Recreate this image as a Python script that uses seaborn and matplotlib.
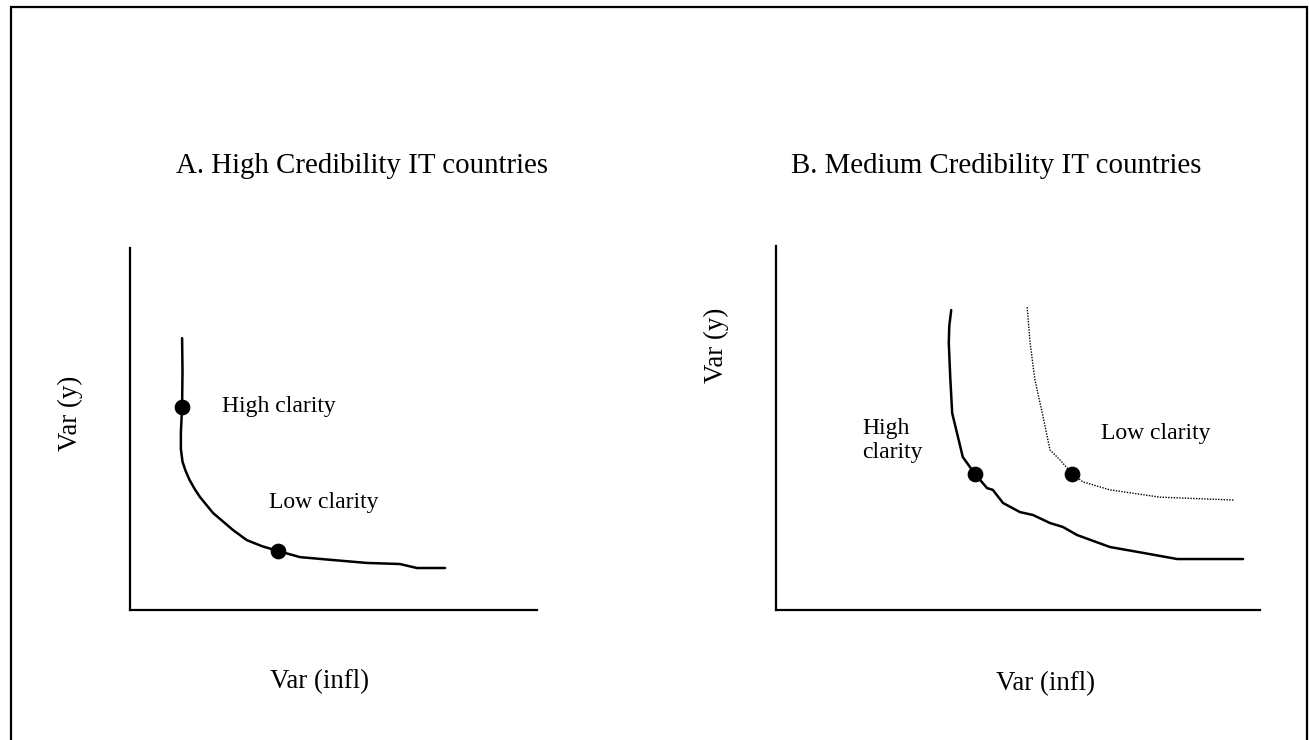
import numpy as np
import pandas as pd
import seaborn as sns
import matplotlib
matplotlib.use("Agg")
import matplotlib.pyplot as plt
from matplotlib.patches import Rectangle

# ---- data (arbitrary 0-100 units) ----
# panel A: high credibility
a_x = [12.8, 12.9, 12.8, 12.5, 12.5, 12.9, 13.6, 14.6, 15.9, 17.2, 20.4, 25.3, 28.7, 32.5, 36.4, 41.8, 49.9, 58.2, 66.3, 70.5, 77.4]
a_y = [75.1, 66.0, 56.1, 49.0, 44.5, 41.0, 38.6, 36.0, 33.4, 31.2, 26.8, 22.1, 19.3, 17.6, 16.3, 14.6, 13.8, 13.0, 12.7, 11.6, 11.6]
a_dot_x = [12.8, 36.4]
a_dot_y = [56.1, 16.3]

# panel B: medium credibility, high clarity (solid)
b_hi_x = [36.2, 35.8, 35.7, 36.0, 36.4, 37.4, 38.6, 41.1, 43.6, 44.8, 46.9, 50.4, 53.1, 56.6, 59.3, 62.2, 69.0, 75.8, 82.9, 96.5]
b_hi_y = [82.4, 78.0, 73.4, 64.0, 54.1, 48.6, 42.0, 37.4, 33.5, 33.0, 29.4, 26.9, 26.1, 23.9, 22.8, 20.6, 17.3, 15.7, 14.0, 14.0]
# panel B: low clarity (dotted)
b_lo_x = [51.9, 52.5, 53.5, 55.2, 56.6, 58.7, 61.2, 63.4, 69.0, 79.3, 94.8]
b_lo_y = [83.2, 73.4, 63.2, 53.0, 44.0, 41.2, 37.4, 35.2, 33.0, 31.0, 30.2]
b_dot_x = [41.1, 61.2]
b_dot_y = [37.4, 37.4]

titles = ["A. High Credibility IT countries", "B. Medium Credibility IT countries"]
xlab = "Var (infl)"
ylab = "Var (y)"

sns.set_theme(style="white")
plt.rcParams["font.family"] = ["Liberation Serif", "DejaVu Serif"]
plt.rcParams["text.color"] = "black"

fig = plt.figure(figsize=(13.09, 7.40), dpi=100)
fig.patches.append(Rectangle((11 / 1309, -0.05), 1296 / 1309, 1 - 7 / 740 + 0.05,
                             transform=fig.transFigure, fill=False,
                             edgecolor="black", linewidth=1.6))

ax1 = fig.add_axes([130 / 1309, 1 - 610 / 740, 407 / 1309, 362 / 740])
ax2 = fig.add_axes([776 / 1309, 1 - 610 / 740, 484 / 1309, 364 / 740])

dfa = pd.DataFrame({"x": a_x, "y": a_y})
sns.lineplot(data=dfa, x="x", y="y", sort=False, estimator=None, color="black", linewidth=1.8, ax=ax1)
sns.scatterplot(x=a_dot_x, y=a_dot_y, color="black", s=110, edgecolor="black", zorder=5, ax=ax1)

dfb1 = pd.DataFrame({"x": b_hi_x, "y": b_hi_y})
dfb2 = pd.DataFrame({"x": b_lo_x, "y": b_lo_y})
sns.lineplot(data=dfb1, x="x", y="y", sort=False, estimator=None, color="black", linewidth=1.8, ax=ax2)
sns.lineplot(data=dfb2, x="x", y="y", sort=False, estimator=None, color="black", linewidth=1.0,
             linestyle=(0, (1, 1)), ax=ax2)
sns.scatterplot(x=b_dot_x, y=b_dot_y, color="black", s=110, edgecolor="black", zorder=5, ax=ax2)

for ax in (ax1, ax2):
    ax.set_xlim(0, 100)
    ax.set_ylim(0, 100)
    ax.set_xticks([])
    ax.set_yticks([])
    ax.set_xlabel("")
    ax.set_ylabel("")
    sns.despine(ax=ax)
    for s in ("left", "bottom"):
        ax.spines[s].set_linewidth(1.6)
        ax.spines[s].set_color("black")

ax1.text(22.5, 56.1, "High clarity", fontsize=17, va="center", ha="left")
ax1.text(34.2, 29.6, "Low clarity", fontsize=17, va="center", ha="left")
ax2.text(17.8, 46.5, "High\nclarity", fontsize=17, va="center", ha="left", linespacing=1.2)
ax2.text(67.1, 48.5, "Low clarity", fontsize=17, va="center", ha="left")

fig.text(362 / 1309, 1 - 173 / 740, titles[0], fontsize=20.8, ha="center", va="baseline")
fig.text(996 / 1309, 1 - 173 / 740, titles[1], fontsize=20.8, ha="center", va="baseline")
fig.text(319 / 1309, 1 - 688 / 740, xlab, fontsize=19.4, ha="center", va="baseline")
fig.text(1046 / 1309, 1 - 690 / 740, xlab, fontsize=19.4, ha="center", va="baseline")
fig.text(70 / 1309, 1 - 413 / 740, ylab, fontsize=19.4, ha="center", va="center", rotation=90)
fig.text(716 / 1309, 1 - 345 / 740, ylab, fontsize=19.4, ha="center", va="center", rotation=90)

fig.savefig("out.png", dpi=100, facecolor="white")
